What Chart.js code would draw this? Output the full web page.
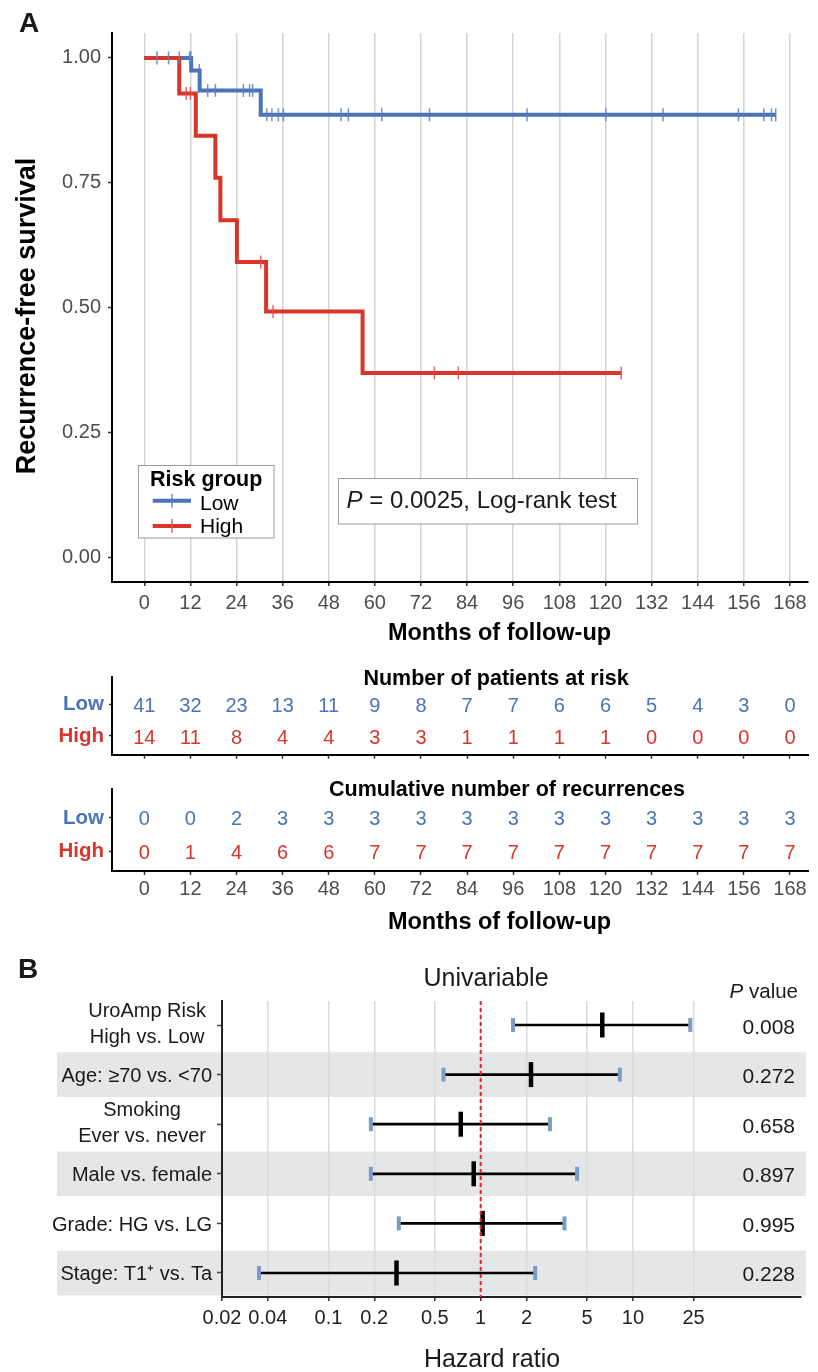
<!DOCTYPE html>
<html><head><meta charset="utf-8">
<script src="https://cdn.jsdelivr.net/npm/chart.js@4.4.1/dist/chart.umd.min.js"></script>
<style>
html,body{margin:0;padding:0;background:#fff;}
body{width:818px;height:1372px;position:relative;overflow:hidden;}
canvas{position:absolute;left:0;}
</style></head><body>
<canvas id="km" width="818" height="650" style="top:0px"></canvas>
<canvas id="risk" width="818" height="122" style="top:650px"></canvas>
<canvas id="cum" width="818" height="178" style="top:772px"></canvas>
<canvas id="forest" width="818" height="422" style="top:950px"></canvas>
<script>
// ---------------- DATA ----------------
const monthTicks = [0,12,24,36,48,60,72,84,96,108,120,132,144,156,168];
const survTicks = [0,0.25,0.5,0.75,1];

const lowTimes = [0, 12.2, 14.4, 30.3, 164.4];
const lowSurv  = [1, 0.975, 0.935, 0.886, 0.886];
const highTimes = [0, 9.1, 13.4, 18.5, 19.8, 24.1, 31.7, 56.8, 124.1];
const highSurv  = [1, 0.929, 0.844, 0.760, 0.675, 0.591, 0.492, 0.369, 0.369];

const lowCensor = [3.3, 6.3, 9.1, 11.8, 12.1, 14.3, 16.5, 18.5, 25.8, 27.4, 28.2, 31.9, 33.2, 34.9, 36.2, 51.2, 53.1, 61.8, 74.2, 99.6, 120.1, 135.0, 154.6, 161.2, 163.2, 164.3];
const highCensor = [10.9, 12.0, 30.3, 33.5, 75.5, 81.7, 124.1];

const riskGroups = ['Low','High'];
const lowAtRisk  = [41,32,23,13,11,9,8,7,7,6,6,5,4,3,0];
const highAtRisk = [14,11,8,4,4,3,3,1,1,1,1,0,0,0,0];
const lowCumRec  = [0,0,2,3,3,3,3,3,3,3,3,3,3,3,3];
const highCumRec = [0,1,4,6,6,7,7,7,7,7,7,7,7,7,7];

const forestLabels = [["UroAmp Risk","High vs. Low"], "Age: \u226570 vs. <70", ["Smoking","Ever vs. never"], "Male vs. female", "Grade: HG vs. LG", "Stage: T1\u207A vs. Ta"];
const hazardRatio = [6.29, 2.14, 0.74, 0.90, 1.03, 0.28];
const ciLower = [1.63, 0.57, 0.19, 0.19, 0.29, 0.035];
const ciUpper = [23.8, 8.2, 2.85, 4.3, 3.55, 2.28];
const pValues = ["0.008","0.272","0.658","0.897","0.995","0.228"];
const hrTicks = [0.02,0.04,0.1,0.2,0.5,1,2,5,10,25];

// ---------------- STYLE ----------------
const F = "'Liberation Sans', Arial, Helvetica, sans-serif";
const BLUE = '#4A73B9', RED = '#D8352B';
const BLUE_T = 'rgba(88,128,196,0.85)', RED_T = 'rgba(226,80,70,0.85)';
Chart.defaults.font.family = F;
Chart.defaults.animation = false;

function stepAt(times, surv, t){ let s = surv[0]; for(let i=0;i<times.length;i++){ if(times[i] <= t) s = surv[i]; } return s; }
function text(ctx, s, x, y, font, color, align, base){
  ctx.save(); ctx.font = font; ctx.fillStyle = color; ctx.textAlign = align || 'left'; ctx.textBaseline = base || 'alphabetic';
  ctx.fillText(s, x, y); ctx.restore();
}

// ---------------- KM PLOT ----------------
const kmPlugin = {
  id:'kmDecor',
  afterDraw(chart){
    const ctx = chart.ctx;
    text(ctx, 'A', 19, 32, `bold 28px ${F}`, '#1a1a1a');
    ctx.save(); ctx.translate(28, 316); ctx.rotate(-Math.PI/2);
    text(ctx, 'Recurrence-free survival', 0, 0, `bold 27px ${F}`, '#000', 'center', 'middle');
    ctx.restore();
    text(ctx, 'Months of follow-up', 499.5, 640, `bold 23.5px ${F}`, '#000', 'center');
    // legend
    ctx.save();
    ctx.fillStyle = '#fff'; ctx.fillRect(138.5, 465.5, 135.5, 72.5);
    ctx.strokeStyle = '#9a9a9a'; ctx.lineWidth = 1; ctx.strokeRect(138.5, 465.5, 135.5, 72.5);
    ctx.restore();
    text(ctx, 'Risk group', 150, 485.7, `bold 21.5px ${F}`, '#000');
    [[BLUE, BLUE_T, 500.7, 'Low', 510],[RED, RED_T, 526, 'High', 533.3]].forEach(([c, ct, y, lab, by]) => {
      ctx.save();
      ctx.strokeStyle = c; ctx.lineWidth = 4; ctx.beginPath(); ctx.moveTo(152.7, y); ctx.lineTo(191, y); ctx.stroke();
      ctx.strokeStyle = ct; ctx.lineWidth = 1.5; ctx.beginPath(); ctx.moveTo(172, y-7); ctx.lineTo(172, y+7); ctx.stroke();
      ctx.restore();
      text(ctx, lab, 200, by, `21px ${F}`, '#000');
    });
    // P box
    ctx.save();
    ctx.fillStyle = '#fff'; ctx.fillRect(338.5, 478.5, 299, 45.5);
    ctx.strokeStyle = '#9a9a9a'; ctx.lineWidth = 1; ctx.strokeRect(338.5, 478.5, 299, 45.5);
    ctx.font = `italic 24px ${F}`; const wP = ctx.measureText('P').width;
    ctx.restore();
    text(ctx, 'P', 346.6, 508, `italic 24px ${F}`, '#1a1a1a');
    text(ctx, ' = 0.0025, Log-rank test', 346.6 + wP, 508, `24px ${F}`, '#1a1a1a');
  }
};

new Chart(document.getElementById('km'), {
  type:'scatter',
  data:{ datasets:[
    { type:'scatter', data: lowCensor.map(t => ({x:t, y:stepAt(lowTimes, lowSurv, t)})),
      pointStyle:'line', pointRotation:90, pointRadius:6.5, pointBorderWidth:1.5, pointBorderColor:BLUE_T, pointBackgroundColor:BLUE_T, order:0 },
    { type:'scatter', data: highCensor.map(t => ({x:t, y:stepAt(highTimes, highSurv, t)})),
      pointStyle:'line', pointRotation:90, pointRadius:6.5, pointBorderWidth:1.5, pointBorderColor:RED_T, pointBackgroundColor:RED_T, order:1 },
    { type:'line', data: highTimes.map((t,i) => ({x:t, y:highSurv[i]})), stepped:true, borderColor:RED, borderWidth:4,
      pointRadius:0, fill:false, borderJoinStyle:'miter', borderCapStyle:'butt', order:2 },
    { type:'line', data: lowTimes.map((t,i) => ({x:t, y:lowSurv[i]})), stepped:true, borderColor:BLUE, borderWidth:4,
      pointRadius:0, fill:false, borderJoinStyle:'miter', borderCapStyle:'butt', order:3 }
  ]},
  options:{
    responsive:false, animation:false, events:[],
    layout:{ padding:{left:0, top:33, right:10, bottom:0} },
    plugins:{ legend:{display:false}, tooltip:{enabled:false} },
    scales:{
      x:{ type:'linear', min:-8.4, max:172.7, bounds:'data',
          afterBuildTicks: s => { s.ticks = monthTicks.map(v => ({value:v})); },
          afterFit: s => { s.height = 68; },
          grid:{ color:'#d4d4d4', lineWidth:1.5, drawTicks:true, tickLength:4, tickColor:'#333', tickWidth:1.5 },
          border:{ color:'#000', width:2 },
          ticks:{ font:{size:20}, color:'#4d4d4d', padding:5, maxRotation:0, autoSkip:false, callback: v => String(v) } },
      y:{ type:'linear', min:-0.05, max:1.05, bounds:'data',
          afterBuildTicks: s => { s.ticks = survTicks.map(v => ({value:v})); },
          afterFit: s => { s.width = 112; },
          grid:{ drawOnChartArea:false, drawTicks:true, tickLength:4, tickColor:'#333', tickWidth:1.5 },
          border:{ color:'#000', width:2 },
          ticks:{ font:{size:20}, color:'#4d4d4d', padding:7, autoSkip:false, callback: v => v.toFixed(2) } }
    }
  },
  plugins:[kmPlugin]
});

// ---------------- RISK TABLES ----------------
const tableNumbers = {
  id:'tableNumbers',
  afterDatasetsDraw(chart){
    const ctx = chart.ctx;
    chart.data.datasets.forEach((ds, di) => {
      const meta = chart.getDatasetMeta(di);
      meta.data.forEach((pt, i) => text(ctx, String(ds.values[i]), pt.x, pt.y + 7.6, `20px ${F}`, ds.textColor, 'center'));
    });
  }
};

function makeTable(id, lowVals, highVals, opts){
  new Chart(document.getElementById(id), {
    type:'scatter',
    data:{ datasets:[
      { data: monthTicks.map(m => ({x:m, y:1})), values: lowVals, textColor: BLUE, pointRadius:0 },
      { data: monthTicks.map(m => ({x:m, y:2})), values: highVals, textColor: RED, pointRadius:0 }
    ]},
    options:{
      responsive:false, animation:false, events:[],
      layout:{ padding:{left:0, top:opts.top, right:10, bottom:0} },
      plugins:{ legend:{display:false}, tooltip:{enabled:false} },
      scales:{
        x:{ type:'linear', min:-8.4, max:172.7, bounds:'data',
            afterBuildTicks: s => { s.ticks = monthTicks.map(v => ({value:v})); },
            afterFit: s => { s.height = opts.xh; },
            grid:{ drawOnChartArea:false, drawTicks:true, tickLength:4, tickColor:'#333', tickWidth:1.5 },
            border:{ color:'#000', width:2 },
            ticks:{ display:opts.showX, font:{size:20}, color:'#4d4d4d', padding:2, maxRotation:0, autoSkip:false, callback: v => String(v) } },
        y:{ type:'linear', min:0.147, max:2.588, reverse:true, bounds:'data',
            afterBuildTicks: s => { s.ticks = [1,2].map(v => ({value:v})); },
            afterFit: s => { s.width = 112; },
            grid:{ drawOnChartArea:false, drawTicks:true, tickLength:3, tickColor:'#333', tickWidth:1.5 },
            border:{ color:'#000', width:2 },
            ticks:{ font:{size:20.5, weight:'bold'}, color: c => c.index === 0 ? BLUE : RED, padding:5, autoSkip:false,
                    callback: v => riskGroups[v-1] } }
      }
    },
    plugins:[tableNumbers, { id:'tdecor', afterDraw(chart){
      const ctx = chart.ctx;
      text(ctx, opts.title, opts.titleX, opts.titleY, `bold 21.5px ${F}`, '#000', 'center');
      if (opts.xTitle) text(ctx, opts.xTitle, 499.5, opts.xTitleY, `bold 23.5px ${F}`, '#000', 'center');
    }}]
  });
}
makeTable('risk', lowAtRisk, highAtRisk, {top:27, xh:12, showX:false, title:'Number of patients at risk', titleX:496, titleY:35});
makeTable('cum', lowCumRec, highCumRec, {top:16, xh:79, showX:true, title:'Cumulative number of recurrences', titleX:507, titleY:23.7, xTitle:'Months of follow-up', xTitleY:157});

// ---------------- FOREST PLOT ----------------
const forestPlugin = {
  id:'forestDecor',
  beforeDraw(chart){
    const ctx = chart.ctx, ys = chart.scales.y;
    const unit = Math.abs(ys.getPixelForValue(2) - ys.getPixelForValue(1));
    ctx.save(); ctx.fillStyle = '#e5e6e8';
    forestLabels.forEach((l, i) => {
      if (i % 2 === 1) { const yc = ys.getPixelForValue(i+1); ctx.fillRect(57, yc - 0.45*unit, 806-57, 0.9*unit); }
    });
    ctx.restore();
  },
  afterDraw(chart){
    const ctx = chart.ctx, ys = chart.scales.y;
    text(ctx, 'B', 18, 28, `bold 28px ${F}`, '#1a1a1a');
    text(ctx, 'Univariable', 486, 36, `25px ${F}`, '#1a1a1a', 'center');
    ctx.save(); ctx.font = `italic 20.5px ${F}`; const wP = ctx.measureText('P').width;
    ctx.font = `20.5px ${F}`; const wV = ctx.measureText(' value').width; ctx.restore();
    text(ctx, 'P', 798 - wV - wP, 48.3, `italic 20.5px ${F}`, '#1a1a1a');
    text(ctx, ' value', 798 - wV, 48.3, `20.5px ${F}`, '#1a1a1a');
    forestLabels.forEach((l, i) => {
      const yc = ys.getPixelForValue(i+1);
      if (Array.isArray(l)) {
        ctx.save(); ctx.font = `20px ${F}`;
        const w = Math.max(...l.map(s => ctx.measureText(s).width)); ctx.restore();
        const cx = 206 - w/2;
        text(ctx, l[0], cx, yc - 8, `20px ${F}`, '#1a1a1a', 'center');
        text(ctx, l[1], cx, yc + 18, `20px ${F}`, '#1a1a1a', 'center');
      } else {
        text(ctx, l, 212, yc + 7.2, `20px ${F}`, '#1a1a1a', 'right');
      }
      text(ctx, pValues[i], 795, yc + 8.5, `21px ${F}`, '#1a1a1a', 'right');
    });
    text(ctx, 'Hazard ratio', 492, 416.7, `25px ${F}`, '#1a1a1a', 'center');
  }
};

new Chart(document.getElementById('forest'), {
  type:'scatter',
  data:{ datasets:[
    { type:'line', data:[{x:1, y:0.516},{x:1, y:6.484}], borderColor:'#E8262A', borderWidth:2, borderDash:[4,3], pointRadius:0, fill:false, order:0 },
    { type:'scatter', data: hazardRatio.map((v,i) => ({x:v, y:i+1})), pointStyle:'line', pointRotation:90, pointRadius:12.5,
      pointBorderWidth:4.5, pointBorderColor:'#000', pointBackgroundColor:'#000', order:1 },
    { type:'scatter', data: ciLower.map((v,i) => ({x:v, y:i+1})).concat(ciUpper.map((v,i) => ({x:v, y:i+1}))),
      pointStyle:'line', pointRotation:90, pointRadius:7, pointBorderWidth:4, pointBorderColor:'#7B9CC4', pointBackgroundColor:'#7B9CC4', order:2 },
    { type:'bar', indexAxis:'y', data: ciLower.map((v,i) => ({x:[v, ciUpper[i]], y:i+1})), backgroundColor:'#000',
      barThickness:2, borderWidth:0, order:3 }
  ]},
  options:{
    responsive:false, animation:false, events:[],
    layout:{ padding:{left:0, top:51, right:10, bottom:0} },
    plugins:{ legend:{display:false}, tooltip:{enabled:false} },
    scales:{
      x:{ type:'logarithmic', min:0.02, max:127, bounds:'data', offset:false,
          afterBuildTicks: s => { s.ticks = hrTicks.map(v => ({value:v})); },
          afterFit: s => { s.height = 75; },
          grid:{ offset:false, color: c => (c.tick && c.tick.value === 0.02) ? 'rgba(0,0,0,0)' : '#dcdcdc', lineWidth:1.5, drawTicks:true, tickLength:4, tickColor:'#333', tickWidth:1.5 },
          border:{ color:'#222', width:2 },
          ticks:{ font:{size:20}, color:'#222', padding:5, maxRotation:0, autoSkip:false, callback: v => String(v) } },
      y:{ type:'linear', min:0.516, max:6.484, reverse:true, bounds:'data', offset:false,
          afterBuildTicks: s => { s.ticks = forestLabels.map((l,i) => ({value:i+1})); },
          afterFit: s => { s.width = 222; },
          grid:{ offset:false, drawOnChartArea:false, drawTicks:true, tickLength:5, tickColor:'#444', tickWidth:1.5 },
          border:{ color:'#222', width:2 },
          ticks:{ display:false } }
    }
  },
  plugins:[forestPlugin]
});
</script>
</body></html>
